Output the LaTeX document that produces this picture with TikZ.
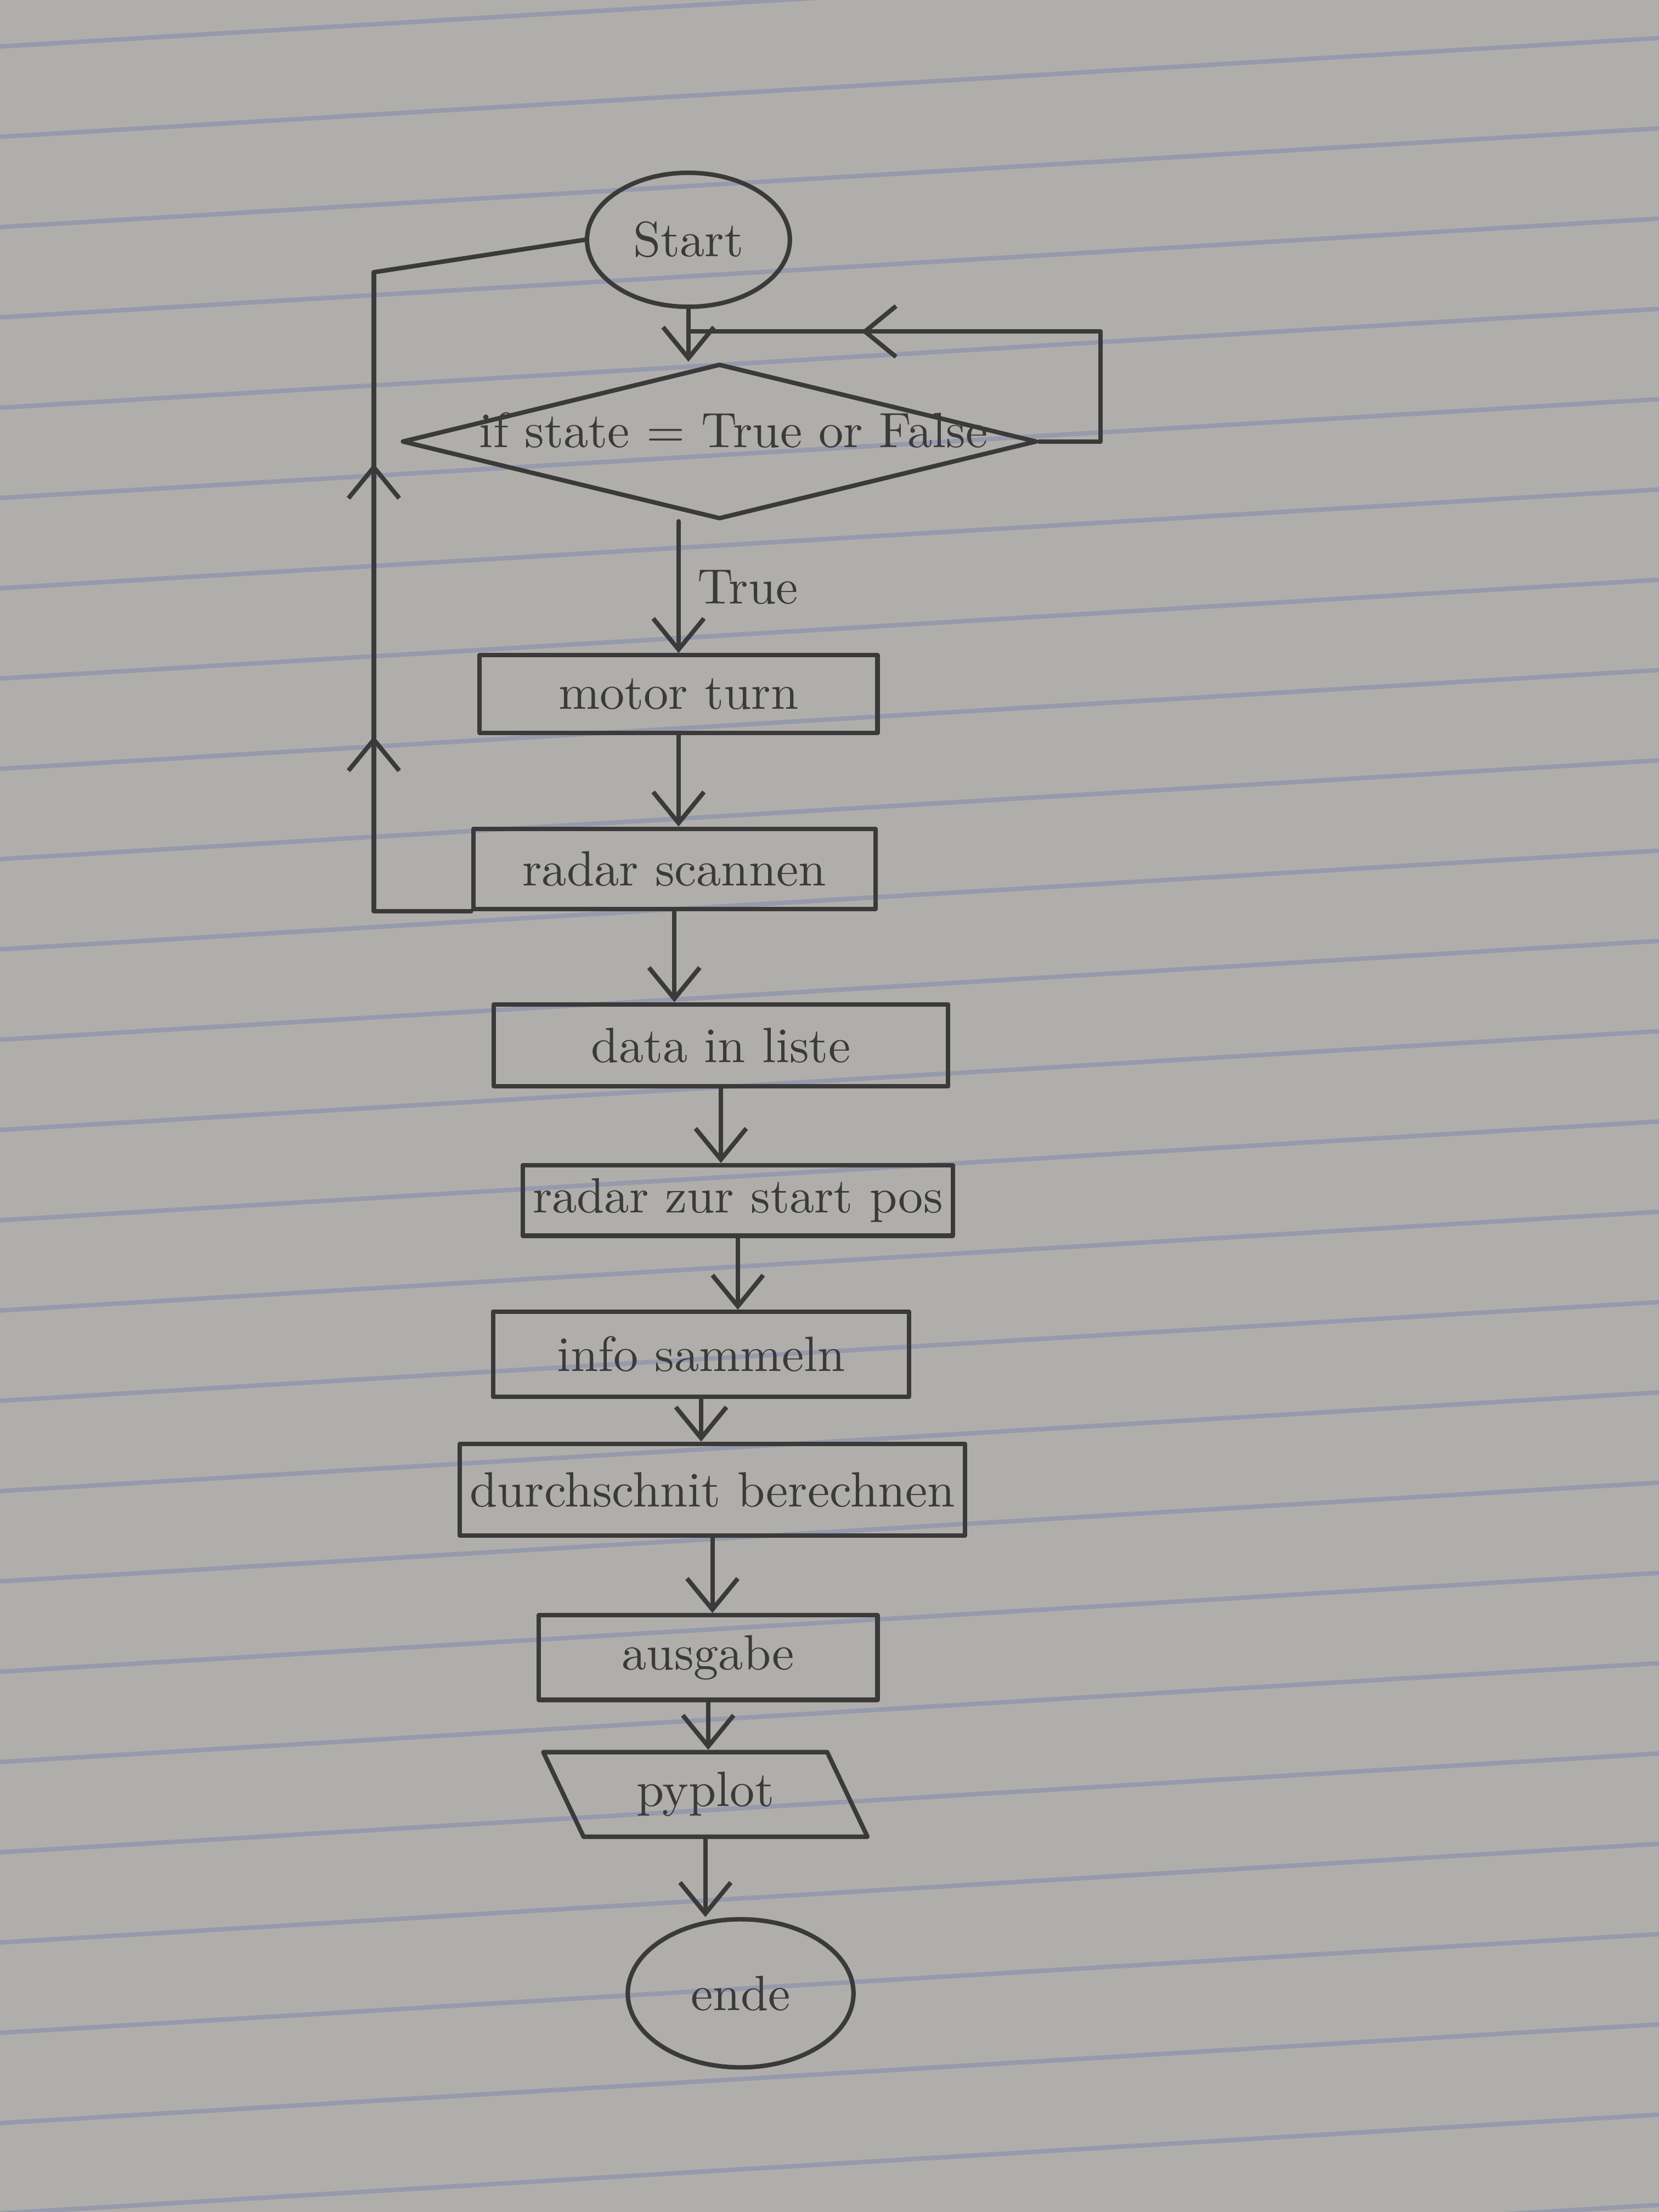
\documentclass[tikz,border=0pt]{standalone}
\usepackage{tikz}
\usetikzlibrary{arrows.meta,shapes.geometric,decorations.markings}

\definecolor{paper}{RGB}{176,174,170}
\definecolor{ruling}{RGB}{128,138,176}
\definecolor{pencil}{RGB}{58,58,58}

\begin{document}
\begin{tikzpicture}[
    line cap=round,
    line join=round,
    box/.style={draw=pencil, line width=0.9pt, rectangle, inner sep=2pt, text=pencil},
    terminal/.style={draw=pencil, line width=0.9pt, ellipse, text=pencil},
    decision/.style={draw=pencil, line width=0.9pt, diamond, minimum width=4.5cm, minimum height=1.1cm, inner sep=0pt},
    plotbox/.style={draw=pencil, line width=0.9pt, trapezium, trapezium stretches=true, trapezium left angle=110, trapezium right angle=70, text=pencil},
    flow/.style={draw=pencil, line width=0.9pt, -{Straight Barb[length=2.2mm, width=3.6mm]}},
    loopline/.style={draw=pencil, line width=0.9pt},
    midarrow/.style={postaction=decorate, decoration={markings,
        mark=at position #1 with {\arrow{Straight Barb[length=2.2mm, width=3.6mm]}}}},
    twoarrows/.style={postaction=decorate, decoration={markings,
        mark=at position 0.37 with {\arrow{Straight Barb[length=2.2mm, width=3.6mm]}},
        mark=at position 0.74 with {\arrow{Straight Barb[length=2.2mm, width=3.6mm]}}}}
]

% Blatt
\useasboundingbox (0,0) rectangle (11.76,15.68);
\fill[paper] (0,0) rectangle (11.76,15.68);
\begin{scope}
    \clip (0,0) rectangle (11.76,15.68);
    \foreach \k in {-3,...,22}
        \draw[ruling, line width=0.9pt, opacity=0.55]
            (0,{13.43-0.64*\k}) -- (11.76,{14.13-0.64*\k});
\end{scope}

% Start und Bedingung
\node[terminal, minimum width=1.2cm, minimum height=0.95cm] (start) at (4.88,13.98) {Start};
\node[decision] (cond) at (5.1,12.55) {};
\node[text=pencil] (condtext) at (5.2,12.63) {if state = True or False};

% Schritte
\node[box, minimum width=2.82cm, minimum height=0.55cm] (motor) at (4.81,10.76) {motor turn};
\node[box, minimum width=2.85cm, minimum height=0.57cm] (scan) at (4.78,9.52) {radar scannen};
\node[box, minimum width=3.22cm, minimum height=0.58cm] (liste) at (5.11,8.27) {data in liste};
\node[box, minimum width=2.97cm, minimum height=0.5cm] (startpos) at (5.23,7.17) {radar zur start pos};
\node[box, minimum width=2.95cm, minimum height=0.6cm] (info) at (4.97,6.08) {info sammeln};
\node[box, minimum width=3.0cm, minimum height=0.65cm] (mean) at (5.05,5.12) {durchschnit berechnen};
\node[box, minimum width=2.4cm, minimum height=0.6cm] (output) at (5.02,3.93) {ausgabe};
\node[plotbox, minimum width=2.3cm, minimum height=0.6cm] (plot) at (5.0,2.96) {pyplot};
\node[terminal, minimum width=1.6cm, minimum height=1.05cm] (ende) at (5.25,1.55) {ende};

% Pfeile nach unten
\draw[flow] (start.south) -- (start.south |- cond.north);
\draw[flow] (motor.north |- cond.south) -- node[right, text=pencil] (truelabel) {True} (motor.north);
\draw[flow] (motor.south) -- (motor.south |- scan.north);
\draw[flow] (scan.south) -- (scan.south |- liste.north);
\draw[flow] (liste.south) -- (liste.south |- startpos.north);
\draw[flow] (startpos.south) -- (startpos.south |- info.north);
\draw[flow] (info.south) -- (info.south |- mean.north);
\draw[flow] (mean.south) -- (mean.south |- output.north);
\draw[flow] (output.south) -- (output.south |- plot.north);
\draw[flow] (plot.south) -- (plot.south |- ende.north);

% Schleife bei False
\coordinate (falseright) at (7.8,12.55);
\coordinate (falsetop) at (7.8,13.33);
\coordinate (merge) at (4.88,13.33);
\draw[loopline] (cond.east) -- (falseright) -- (falsetop);
\draw[loopline, midarrow=0.58] (falsetop) -- (merge);

% Ruecksprung zum Start
\coordinate (backtop) at (2.65,13.75);
\draw[loopline, twoarrows] (scan.south west) -| (backtop);
\draw[loopline] (backtop) -- (start.west);

\end{tikzpicture}
\end{document}
